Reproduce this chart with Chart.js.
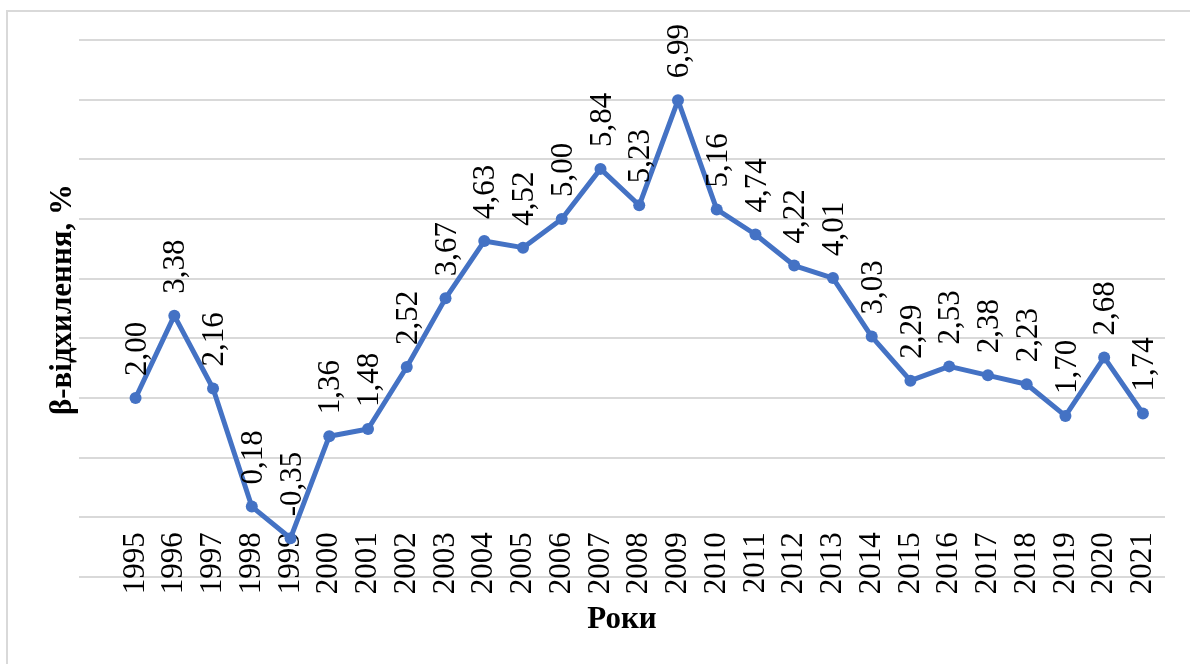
<!DOCTYPE html>
<html>
<head>
<meta charset="utf-8">
<script src="https://cdn.jsdelivr.net/npm/chart.js@4.4.1/dist/chart.umd.min.js"></script>
<style>
  body { margin: 0; background: #fff; }
  canvas { display: block; }
</style>
</head>
<body>
<canvas id="chart" width="1190" height="664"></canvas>
<script>
"use strict";

// роки і значення β-відхилення, %
const years = ['1995', '1996', '1997', '1998', '1999', '2000', '2001', '2002', '2003',
  '2004', '2005', '2006', '2007', '2008', '2009', '2010', '2011', '2012', '2013',
  '2014', '2015', '2016', '2017', '2018', '2019', '2020', '2021'];
const beta = [2.00, 3.38, 2.16, 0.18, -0.35, 1.36, 1.48, 2.52, 3.67, 4.63, 4.52, 5.00,
  5.84, 5.23, 6.99, 5.16, 4.74, 4.22, 4.01, 3.03, 2.29, 2.53, 2.38, 2.23, 1.70, 2.68, 1.74];

const yTitle = 'β-відхилення, %';
const xTitle = 'Роки';

const serif = 'Liberation Serif';

// рамка навколо діаграми
const frame = {
  id: 'frame',
  beforeDraw(chart) {
    const ctx = chart.ctx;
    ctx.save();
    ctx.strokeStyle = '#d9d9d9';
    ctx.lineWidth = 2;
    ctx.strokeRect(7, 11, 1400, 1000);
    ctx.restore();
  }
};

// підписи значень, повернуті на 90°
const valueLabels = {
  id: 'valueLabels',
  afterDatasetsDraw(chart) {
    const ctx = chart.ctx;
    const meta = chart.getDatasetMeta(0);
    ctx.save();
    ctx.font = '31px "' + serif + '"';
    ctx.fillStyle = '#000';
    ctx.textAlign = 'left';
    ctx.textBaseline = 'middle';
    meta.data.forEach((pt, i) => {
      ctx.save();
      ctx.translate(pt.x + 2, pt.y - 22);
      ctx.rotate(-Math.PI / 2);
      ctx.fillText(beta[i].toFixed(2).replace('.', ','), 0, 0);
      ctx.restore();
    });
    ctx.restore();
  }
};

// назви осей (позиції як в Excel)
const axisTitles = {
  id: 'axisTitles',
  afterDraw(chart) {
    const ctx = chart.ctx;
    const area = chart.chartArea;
    ctx.save();
    ctx.font = 'bold 31px "' + serif + '"';
    ctx.fillStyle = '#000';
    ctx.textAlign = 'center';
    ctx.textBaseline = 'middle';

    ctx.fillText(xTitle, (area.left + area.right) / 2, area.bottom + 43);

    ctx.translate(area.left - 16, (area.top + area.bottom) / 2 - 9);
    ctx.rotate(-Math.PI / 2);
    ctx.fillText(yTitle, 0, 0);
    ctx.restore();
  }
};

const ctx = document.querySelector('#chart').getContext('2d');

let betaChart = new Chart(ctx, {
  type: 'line',
  data: {
    datasets: [{
      label: yTitle,
      data: beta.map((v, i) => ({ x: i, y: v })),
      borderColor: '#4472C4',
      backgroundColor: '#4472C4',
      borderWidth: 5,
      borderJoinStyle: 'round',
      borderCapStyle: 'round',
      pointRadius: 6,
      pointBorderWidth: 0,
      pointBackgroundColor: '#4472C4',
      tension: 0
    }]
  },
  options: {
    responsive: false,
    animation: false,
    devicePixelRatio: 1,
    layout: { padding: { left: 79, right: 25, top: 40, bottom: 87 } },
    plugins: {
      legend: { display: false },
      tooltip: { enabled: false }
    },
    scales: {
      x: {
        type: 'linear',
        position: { y: 0 },
        min: -1.46,
        max: 26.57,
        afterBuildTicks: (scale) => {
          scale.ticks = years.map((y, i) => ({ value: i }));
        },
        afterFit: (scale) => {
          scale.paddingLeft = 0;
          scale.paddingRight = 0;
        },
        grid: { display: false, drawTicks: false },
        border: { display: false },
        ticks: {
          autoSkip: false,
          minRotation: 90,
          maxRotation: 90,
          padding: 15,
          color: '#000',
          font: { family: serif, size: 31 },
          callback: (v) => years[v]
        },
        title: { display: false }
      },
      y: {
        min: -1,
        max: 8,
        ticks: { display: false, stepSize: 1 },
        grid: { color: '#d9d9d9', lineWidth: 2, drawTicks: false },
        border: { display: false },
        title: { display: false }
      }
    }
  },
  plugins: [frame, valueLabels, axisTitles]
});
</script>
</body>
</html>
